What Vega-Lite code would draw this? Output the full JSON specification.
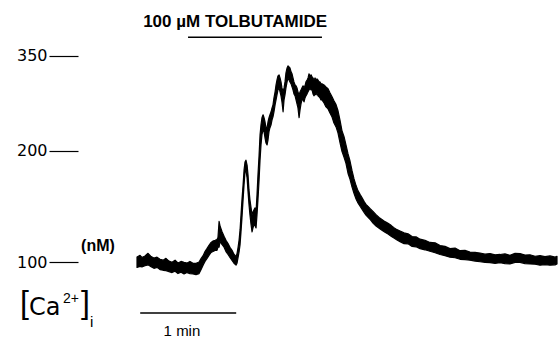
{
  "$schema": "https://vega.github.io/schema/vega-lite/v6.json",
  "width": 481,
  "height": 338,
  "autosize": {"type": "none"},
  "padding": {"left": 78, "top": 0, "right": 0, "bottom": 0},
  "background": "white",
  "config": {"view": {"stroke": null}},
  "datasets": {
    "trace": [
      {"t":0,"ca":96.6,"ca2":103.3},{"t":1.9,"ca":97.2,"ca2":104.4},{"t":3.1,"ca":96.9,"ca2":103.0},{"t":5.0,"ca":97.6,"ca2":104.0},
      {"t":6.9,"ca":98.2,"ca2":105.8},{"t":8.8,"ca":97.0,"ca2":103.6},{"t":10.6,"ca":96.0,"ca2":102.6},{"t":12.5,"ca":96.6,"ca2":103.2},
      {"t":14.4,"ca":95.2,"ca2":101.8},{"t":16.3,"ca":94.8,"ca2":101.2},{"t":18.1,"ca":94.6,"ca2":102.4},{"t":20.0,"ca":94.0,"ca2":100.6},
      {"t":21.9,"ca":93.4,"ca2":99.8},{"t":23.8,"ca":94.2,"ca2":101.2},{"t":25.6,"ca":92.8,"ca2":99.4},{"t":27.5,"ca":93.6,"ca2":100.4},
      {"t":29.4,"ca":92.6,"ca2":99.8},{"t":31.3,"ca":93.4,"ca2":99.4},{"t":33.1,"ca":92.8,"ca2":100.4},{"t":35.0,"ca":92.6,"ca2":99.2},
      {"t":36.9,"ca":92.2,"ca2":99.2},{"t":38.8,"ca":92.8,"ca2":100.0},{"t":40.0,"ca":95.2,"ca2":102.2},{"t":41.3,"ca":98.0,"ca2":104.2},
      {"t":42.5,"ca":100.4,"ca2":107.0},{"t":43.8,"ca":102.4,"ca2":109.2},{"t":45.0,"ca":104.4,"ca2":111.4},{"t":46.3,"ca":106.4,"ca2":113.4},
      {"t":47.5,"ca":107.0,"ca2":114.4},{"t":48.8,"ca":107.8,"ca2":115.0},{"t":50.0,"ca":107.8,"ca2":115.6},{"t":50.6,"ca":110.0,"ca2":117.0},
      {"t":51.3,"ca":110.0,"ca2":129.6},{"t":51.9,"ca":114.2,"ca2":126.0},{"t":53.1,"ca":112.0,"ca2":121.6},{"t":54.4,"ca":110.0,"ca2":118.0},
      {"t":55.6,"ca":107.0,"ca2":115.0},{"t":56.9,"ca":105.0,"ca2":112.6},{"t":58.1,"ca":103.0,"ca2":110.0},{"t":59.4,"ca":101.0,"ca2":107.8},
      {"t":60.6,"ca":99.2,"ca2":105.2},{"t":61.9,"ca":98.0,"ca2":103.6},{"t":62.5,"ca":99.2,"ca2":105.6},{"t":63.1,"ca":102.6,"ca2":109.4},
      {"t":63.8,"ca":106.7,"ca2":115.2},{"t":64.4,"ca":111.6,"ca2":122.8},{"t":65.0,"ca":121.3,"ca2":135.0},{"t":65.6,"ca":132.5,"ca2":148.3},
      {"t":66.3,"ca":148.3,"ca2":162.7},{"t":66.9,"ca":162.7,"ca2":178.0},{"t":67.5,"ca":175.9,"ca2":187.0},{"t":68.1,"ca":178.0,"ca2":189.2},
      {"t":68.8,"ca":169.8,"ca2":183.6},{"t":69.4,"ca":155.8,"ca2":172.8},{"t":70.0,"ca":143.8,"ca2":157.7},{"t":70.6,"ca":135.0,"ca2":148.3},
      {"t":71.3,"ca":126.8,"ca2":141.1},{"t":71.9,"ca":121.3,"ca2":135.0},{"t":72.5,"ca":124.4,"ca2":137.6},{"t":73.1,"ca":126.8,"ca2":139.3},
      {"t":73.8,"ca":126.0,"ca2":141.1},{"t":74.4,"ca":124.4,"ca2":137.6},{"t":75.0,"ca":135.0,"ca2":153.0},{"t":75.6,"ca":148.3,"ca2":172.8},
      {"t":76.3,"ca":167.7,"ca2":195.1},{"t":76.9,"ca":189.2,"ca2":220.5},{"t":77.5,"ca":207.5,"ca2":234.0},{"t":78.1,"ca":220.5,"ca2":243.9},
      {"t":78.8,"ca":227.1,"ca2":248.2},{"t":79.4,"ca":224.5,"ca2":243.9},{"t":80.0,"ca":216.5,"ca2":238.2},{"t":80.6,"ca":210.0,"ca2":229.9},
      {"t":81.3,"ca":207.5,"ca2":229.9},{"t":81.9,"ca":213.9,"ca2":238.2},{"t":82.5,"ca":224.5,"ca2":243.9},{"t":83.1,"ca":229.9,"ca2":248.2},
      {"t":83.8,"ca":234.0,"ca2":252.6},{"t":84.4,"ca":241.0,"ca2":258.6},{"t":85.0,"ca":245.3,"ca2":263.2},{"t":85.6,"ca":252.6,"ca2":274.1},
      {"t":86.3,"ca":263.2,"ca2":283.9},{"t":86.9,"ca":270.9,"ca2":295.7},{"t":87.5,"ca":279.0,"ca2":304.2},{"t":88.1,"ca":287.1,"ca2":311.5},
      {"t":88.8,"ca":290.5,"ca2":313.3},{"t":89.4,"ca":283.9,"ca2":307.8},{"t":90.0,"ca":277.4,"ca2":300.8},{"t":90.6,"ca":267.8,"ca2":290.5},
      {"t":91.3,"ca":252.6,"ca2":283.9},{"t":91.9,"ca":270.9,"ca2":290.5},{"t":92.5,"ca":279.0,"ca2":300.8},{"t":93.1,"ca":290.5,"ca2":316.9},
      {"t":93.8,"ca":300.8,"ca2":326.1},{"t":94.4,"ca":307.8,"ca2":330.0},{"t":95.0,"ca":304.2,"ca2":328.1},{"t":95.6,"ca":300.8,"ca2":326.1},
      {"t":96.3,"ca":297.4,"ca2":318.7},{"t":96.9,"ca":292.2,"ca2":315.1},{"t":97.5,"ca":287.1,"ca2":307.8},{"t":98.1,"ca":280.6,"ca2":300.8},
      {"t":98.8,"ca":277.4,"ca2":295.7},{"t":99.4,"ca":270.9,"ca2":294.0},{"t":100.0,"ca":264.7,"ca2":290.5},{"t":100.6,"ca":258.6,"ca2":283.9},
      {"t":101.3,"ca":243.9,"ca2":279.0},{"t":101.9,"ca":255.5,"ca2":283.9},{"t":102.5,"ca":264.7,"ca2":287.1},{"t":103.1,"ca":270.9,"ca2":290.5},
      {"t":103.8,"ca":270.9,"ca2":294.0},{"t":104.4,"ca":267.8,"ca2":290.5},{"t":105.0,"ca":274.1,"ca2":294.0},{"t":105.6,"ca":277.4,"ca2":300.8},
      {"t":106.3,"ca":280.6,"ca2":304.2},{"t":106.9,"ca":283.9,"ca2":307.8},{"t":107.5,"ca":287.1,"ca2":315.1},{"t":108.1,"ca":290.5,"ca2":311.5},
      {"t":108.8,"ca":287.1,"ca2":313.3},{"t":109.4,"ca":287.1,"ca2":309.6},{"t":110.0,"ca":280.6,"ca2":307.8},{"t":110.6,"ca":277.4,"ca2":304.2},
      {"t":111.3,"ca":280.6,"ca2":307.8},{"t":111.9,"ca":279.0,"ca2":304.2},{"t":112.5,"ca":282.3,"ca2":306.0},{"t":113.1,"ca":277.4,"ca2":304.2},
      {"t":113.8,"ca":275.8,"ca2":300.8},{"t":114.4,"ca":274.1,"ca2":300.8},{"t":115.0,"ca":270.9,"ca2":297.4},{"t":115.6,"ca":270.9,"ca2":297.4},
      {"t":116.9,"ca":266.0,"ca2":295.5},{"t":118.1,"ca":260.0,"ca2":292.0},{"t":119.4,"ca":257.0,"ca2":289.0},{"t":120.6,"ca":251.0,"ca2":282.5},
      {"t":121.9,"ca":245.0,"ca2":276.0},{"t":123.1,"ca":236.5,"ca2":269.5},{"t":124.4,"ca":231.0,"ca2":263.5},{"t":125.6,"ca":223.0,"ca2":254.5},
      {"t":126.9,"ca":210.0,"ca2":240.0},{"t":128.1,"ca":199.5,"ca2":226.0},{"t":129.4,"ca":192.5,"ca2":218.0},{"t":130.6,"ca":185.5,"ca2":207.5},
      {"t":131.9,"ca":174.5,"ca2":196.5},{"t":133.1,"ca":168.5,"ca2":188.5},{"t":134.4,"ca":160.5,"ca2":177.5},{"t":135.6,"ca":154.5,"ca2":169.0},
      {"t":136.9,"ca":149.0,"ca2":162.0},{"t":138.1,"ca":145.5,"ca2":157.0},{"t":139.4,"ca":142.5,"ca2":153.5},{"t":140.6,"ca":140.0,"ca2":150.5},
      {"t":141.9,"ca":137.2,"ca2":147.0},{"t":143.1,"ca":134.8,"ca2":144.2},{"t":144.4,"ca":133.0,"ca2":142.4},{"t":145.6,"ca":131.4,"ca2":140.6},
      {"t":147.5,"ca":128.2,"ca2":138.0},{"t":149.4,"ca":125.8,"ca2":135.2},{"t":151.3,"ca":124.2,"ca2":132.8},{"t":153.1,"ca":122.6,"ca2":131.2},
      {"t":155.0,"ca":121.0,"ca2":129.4},{"t":156.9,"ca":119.6,"ca2":128.0},{"t":158.8,"ca":118.0,"ca2":126.4},{"t":160.6,"ca":116.6,"ca2":124.6},
      {"t":162.5,"ca":115.2,"ca2":123.0},{"t":164.4,"ca":114.0,"ca2":122.0},{"t":166.9,"ca":112.5,"ca2":120.5},{"t":169.4,"ca":112.4,"ca2":119.8},
      {"t":171.9,"ca":110.6,"ca2":117.8},{"t":174.4,"ca":110.3,"ca2":117.5},{"t":176.9,"ca":109.0,"ca2":115.8},{"t":180.0,"ca":108.2,"ca2":115.0},
      {"t":183.1,"ca":107.2,"ca2":113.4},{"t":186.3,"ca":106.2,"ca2":113.2},{"t":189.4,"ca":105.0,"ca2":111.2},{"t":192.5,"ca":104.2,"ca2":110.6},
      {"t":195.6,"ca":103.2,"ca2":109.0},{"t":198.8,"ca":102.8,"ca2":109.4},{"t":201.9,"ca":101.8,"ca2":107.6},{"t":205.0,"ca":101.6,"ca2":107.8},
      {"t":208.1,"ca":101.2,"ca2":106.6},{"t":211.3,"ca":100.6,"ca2":106.4},{"t":214.4,"ca":100.2,"ca2":106.0},{"t":217.5,"ca":99.8,"ca2":105.2},
      {"t":220.6,"ca":99.6,"ca2":105.6},{"t":223.8,"ca":99.2,"ca2":104.8},{"t":226.9,"ca":99.6,"ca2":105.0},{"t":230.0,"ca":99.0,"ca2":105.4},
      {"t":233.1,"ca":98.8,"ca2":104.4},{"t":236.3,"ca":99.8,"ca2":105.8},{"t":239.4,"ca":99.8,"ca2":105.6},{"t":242.5,"ca":99.0,"ca2":104.6},
      {"t":245.6,"ca":98.8,"ca2":104.8},{"t":248.8,"ca":98.6,"ca2":103.8},{"t":251.9,"ca":98.0,"ca2":104.2},{"t":255.0,"ca":98.4,"ca2":103.6},
      {"t":258.1,"ca":98.0,"ca2":104.0},{"t":261.3,"ca":98.2,"ca2":103.2},{"t":262.5,"ca":98.8,"ca2":103.8}
    ],
    "bars": [
      {"t": 31.9, "t2": 115.6, "ca": 388.3},
      {"t": 2.0, "t2": 62.0, "ca": 71.5}
    ]
  },
  "layer": [
    {
      "data": {"name": "trace"},
      "mark": {"type": "area", "color": "black", "stroke": "black", "strokeWidth": 1.2, "strokeJoin": "round"},
      "encoding": {
        "x": {"field": "t", "type": "quantitative", "scale": {"domain": [-36.875, 263.75], "nice": false, "zero": false}, "axis": null},
        "y": {"field": "ca", "type": "quantitative",
              "scale": {"type": "pow", "exponent": 0.1, "domain": [60.45, 478], "nice": false, "zero": false},
              "axis": {"values": [100, 200, 350], "domain": false, "grid": false, "title": null,
                       "tickSize": 29, "tickWidth": 1.2, "tickColor": "black", "labelPadding": 2,
                       "labelFont": "DejaVu Sans", "labelFontSize": 16, "labelColor": "black"}},
        "y2": {"field": "ca2"}
      }
    },
    {
      "data": {"name": "bars"},
      "mark": {"type": "rule", "color": "black", "strokeWidth": 1.5},
      "encoding": {
        "x": {"field": "t", "type": "quantitative"},
        "x2": {"field": "t2"},
        "y": {"field": "ca", "type": "quantitative"}
      }
    },
    {
      "data": {"values": [{"t": 61.3, "ca": 410.8, "label": "100 µM TOLBUTAMIDE"}]},
      "mark": {"type": "text", "font": "Liberation Sans", "fontSize": 17, "fontWeight": "bold", "align": "center", "baseline": "alphabetic", "color": "black"},
      "encoding": {"x": {"field": "t", "type": "quantitative"}, "y": {"field": "ca", "type": "quantitative"}, "text": {"field": "label"}}
    },
    {
      "data": {"values": [{"t": -24.4, "ca": 110.9, "label": "(nM)"}]},
      "mark": {"type": "text", "font": "Liberation Sans", "fontSize": 16, "fontWeight": "bold", "align": "center", "baseline": "middle", "color": "black"},
      "encoding": {"x": {"field": "t", "type": "quantitative"}, "y": {"field": "ca", "type": "quantitative"}, "text": {"field": "label"}}
    },
    {
      "data": {"values": [{"t": 28.1, "ca": 61.3, "label": "1 min"}]},
      "mark": {"type": "text", "font": "Liberation Sans", "fontSize": 15, "align": "center", "baseline": "alphabetic", "color": "black"},
      "encoding": {"x": {"field": "t", "type": "quantitative"}, "y": {"field": "ca", "type": "quantitative"}, "text": {"field": "label"}}
    },
    {
      "data": {"values": [{"t": -73.1, "ca": 71.5, "label": "["}, {"t": -35.0, "ca": 71.5, "label": "]"}]},
      "mark": {"type": "text", "font": "Liberation Sans", "fontSize": 32, "align": "left", "baseline": "alphabetic", "color": "black"},
      "encoding": {"x": {"field": "t", "type": "quantitative"}, "y": {"field": "ca", "type": "quantitative"}, "text": {"field": "label"}}
    },
    {
      "data": {"values": [{"t": -67.5, "ca": 70.57, "label": "Ca"}]},
      "mark": {"type": "text", "font": "DejaVu Sans", "fontSize": 24, "align": "left", "baseline": "alphabetic", "color": "black"},
      "encoding": {"x": {"field": "t", "type": "quantitative"}, "y": {"field": "ca", "type": "quantitative"}, "text": {"field": "label"}}
    },
    {
      "data": {"values": [{"t": -46.2, "ca": 76.44, "label": "2+"}]},
      "mark": {"type": "text", "font": "Liberation Sans", "fontSize": 14, "align": "left", "baseline": "alphabetic", "color": "black"},
      "encoding": {"x": {"field": "t", "type": "quantitative"}, "y": {"field": "ca", "type": "quantitative"}, "text": {"field": "label"}}
    },
    {
      "data": {"values": [{"t": -29.4, "ca": 65.13, "label": "i"}]},
      "mark": {"type": "text", "font": "Liberation Sans", "fontSize": 15, "align": "left", "baseline": "alphabetic", "color": "black"},
      "encoding": {"x": {"field": "t", "type": "quantitative"}, "y": {"field": "ca", "type": "quantitative"}, "text": {"field": "label"}}
    }
  ]
}
